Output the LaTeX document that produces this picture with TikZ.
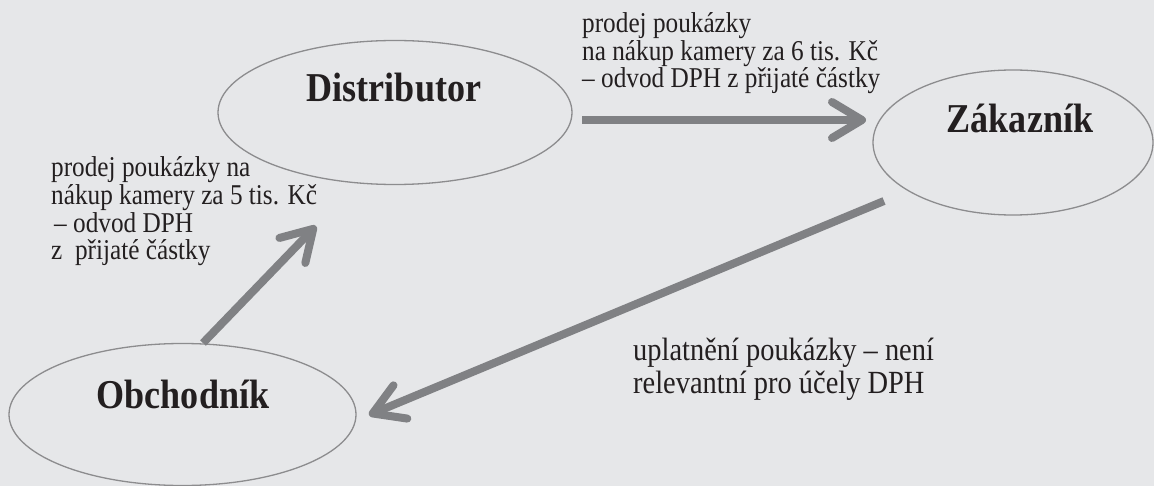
\documentclass[tikz,border=0pt]{standalone}
\usepackage{fontspec}
\setmainfont{Liberation Serif}[FakeStretch=0.88]
\usetikzlibrary{shapes.geometric,arrows.meta}
\definecolor{bg}{HTML}{E6E7E9}
\definecolor{arr}{HTML}{808184}
\definecolor{edge}{HTML}{8C8C8E}
\definecolor{ink}{HTML}{231F20}
\begin{document}
\begin{tikzpicture}[x=1pt,y=-1pt,
  party/.style={ellipse, draw=edge, line width=1.3pt, inner sep=0pt, outer sep=0pt},
  partyname/.style={anchor=base, font=\fontsize{41}{41}\selectfont\bfseries, text=ink, inner sep=0pt},
  lbl/.style={anchor=base west, align=left, text=ink, inner sep=0pt},
  flow/.style={draw=arr, line width=8pt, line cap=butt, -{Straight Barb[length=30pt,width=36pt,round]}}]
\fill[bg] (0,0) rectangle (1154,486);
\useasboundingbox (0,0) rectangle (1154,486);

\node[party, minimum width=354pt, minimum height=144pt] (dist) at (395,112.5) {};
\node[party, minimum width=280pt, minimum height=145pt] (zak) at (1013,142.5) {};
\node[party, minimum width=347pt, minimum height=142pt] (obch) at (182.5,414.5) {};

\node[partyname] (distt) at (394,102) {Distributor};
\node[partyname] (zakt) at (1020,133) {Zákazník};
\node[partyname] (obcht) at (183,408) {Obchodník};

\node[lbl, font=\fontsize{28.7}{27.5}\selectfont] (l1) at (582,88)
  {prodej poukázky\\na nákup kamery za 6 tis. Kč\\– odvod DPH z přijaté částky};
\node[lbl, font=\fontsize{28.7}{27.7}\selectfont] (l2) at (51,260)
  {prodej poukázky na\\nákup kamery za 5 tis. Kč\\\hspace{3pt}– odvod DPH\\z\ \ přijaté částky};
\node[lbl, font=\fontsize{32.3}{33}\selectfont] (l3) at (633,393)
  {uplatnění poukázky – není\\relevantní pro účely DPH};

\draw[flow] ([shift={(10,7.5)}]dist.east) -- ([shift={(-7,-22.5)}]zak.west);
\draw[flow] ([shift={(20.5,-0.5)}]obch.north) -- ([shift={(-79,41.5)}]dist.south);
\draw[flow] ([shift={(-129,-14)}]zak.south) -- ([shift={(13,0.5)}]obch.east);
\end{tikzpicture}
\end{document}
